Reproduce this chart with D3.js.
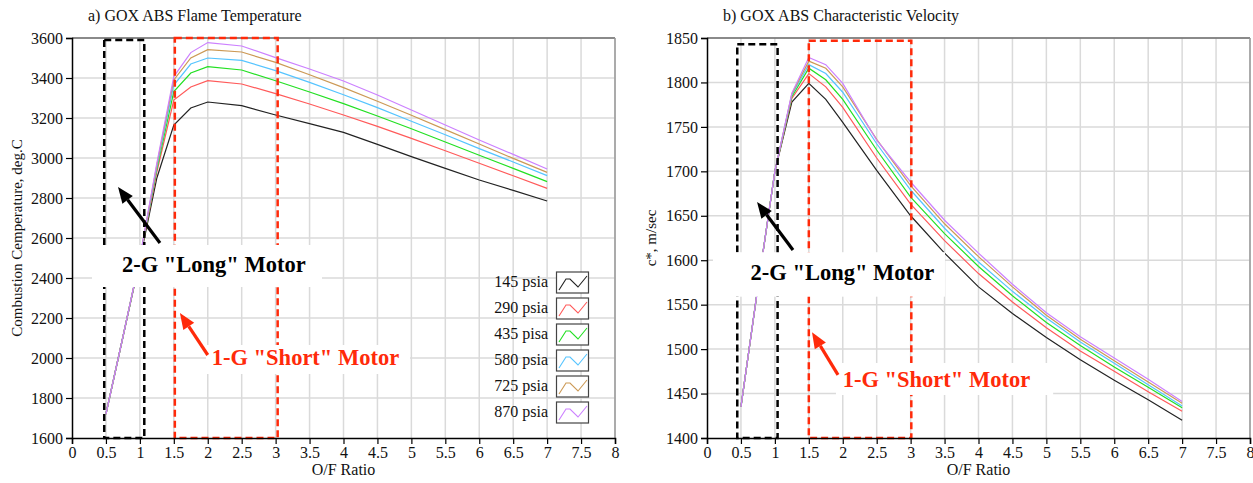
<!DOCTYPE html>
<html>
<head>
<meta charset="utf-8">
<script src="https://cdn.jsdelivr.net/npm/d3@7"></script>
<style>
  body { margin: 0; background: #fff; }
  svg, svg text { font-family: "Liberation Serif", "Times New Roman", serif !important; }
</style>
</head>
<body>
<div id="chart"></div>
<script>
// O/F ratio points
var ofRatio = [0.5, 0.75, 1, 1.25, 1.5, 1.75, 2, 2.5, 3, 3.5, 4, 4.5, 5, 5.5, 6, 6.5, 7];

var seriesNames = ["145 psia", "290 psia", "435 pisa", "580 psia", "725 psia", "870 psia"];
var seriesColors = ["#222222", "#ff5a5a", "#22e022", "#55c4ff", "#cc9955", "#cc80ff"];

// a) flame temperature, deg C
var tempP145 = [1720, 2105, 2490, 2900, 3165, 3250, 3280, 3262, 3215, 3172, 3128, 3068, 3007, 2948, 2890, 2838, 2785];
var tempP290 = [1720, 2105, 2495, 2930, 3290, 3355, 3387, 3370, 3322, 3270, 3215, 3158, 3098, 3036, 2974, 2911, 2848];
var tempP435 = [1720, 2105, 2497, 2945, 3332, 3425, 3457, 3440, 3386, 3330, 3272, 3210, 3146, 3080, 3014, 2948, 2882];
var tempP580 = [1720, 2105, 2498, 2955, 3365, 3470, 3500, 3488, 3437, 3378, 3316, 3252, 3184, 3116, 3047, 2980, 2912];
var tempP725 = [1720, 2105, 2499, 2965, 3390, 3500, 3542, 3530, 3478, 3416, 3352, 3284, 3214, 3142, 3070, 2998, 2928];
var tempP870 = [1720, 2105, 2500, 2975, 3407, 3527, 3577, 3560, 3502, 3445, 3385, 3315, 3240, 3165, 3090, 3018, 2945];

// b) characteristic velocity, m/sec
var cstarP145 = [1435, 1570, 1700, 1778, 1799, 1781, 1755, 1701, 1650, 1608, 1570, 1540, 1513, 1488, 1465, 1443, 1420];
var cstarP290 = [1435, 1570, 1700, 1782, 1810, 1795, 1772, 1715, 1663, 1622, 1585, 1553, 1524, 1498, 1475, 1452, 1430];
var cstarP435 = [1435, 1570, 1700, 1784, 1816, 1803, 1781, 1724, 1671, 1630, 1593, 1560, 1530, 1504, 1480, 1457, 1434];
var cstarP580 = [1435, 1570, 1700, 1786, 1820, 1810, 1789, 1731, 1679, 1636, 1598, 1565, 1535, 1508, 1484, 1460, 1436];
var cstarP725 = [1435, 1570, 1700, 1787, 1824, 1816, 1795, 1736, 1684, 1641, 1604, 1570, 1538, 1511, 1487, 1463, 1439];
var cstarP870 = [1435, 1570, 1700, 1788, 1828, 1820, 1799, 1735, 1688, 1645, 1608, 1573, 1541, 1514, 1490, 1466, 1441];

var xTicks = d3.range(0, 8.01, 0.5);
var tempTicks = d3.range(1600, 3601, 200);
var cstarTicks = d3.range(1400, 1851, 50);

var WIDTH = 1253, HEIGHT = 483;
var RED = "#ff2a0a";

const svg = d3.select("#chart").append("svg")
  .attr("width", WIDTH)
  .attr("height", HEIGHT);

function drawPanel(p) {
  const x = d3.scaleLinear().domain([0, 8]).range([p.left, p.right]);
  const y = d3.scaleLinear().domain(p.yDomain).range([p.bottom, p.top]);
  const g = svg.append("g");

  // grid
  g.append("g").selectAll("line").data(xTicks.slice(1)).join("line")
    .attr("x1", d => x(d)).attr("x2", d => x(d))
    .attr("y1", p.top).attr("y2", p.bottom)
    .attr("stroke", "#dadada").attr("stroke-width", 1.5);
  g.append("g").selectAll("line").data(p.yTicks.slice(1)).join("line")
    .attr("x1", p.left).attr("x2", p.right)
    .attr("y1", d => y(d)).attr("y2", d => y(d))
    .attr("stroke", "#dadada").attr("stroke-width", 1.5);

  // frame (top + right)
  g.append("line").attr("x1", p.left).attr("x2", p.right).attr("y1", p.top).attr("y2", p.top)
    .attr("stroke", "#333").attr("stroke-width", 1.2);
  g.append("line").attr("x1", p.right).attr("x2", p.right).attr("y1", p.top).attr("y2", p.bottom)
    .attr("stroke", "#999").attr("stroke-width", 1.5);

  // data
  const line = d3.line().x((d, i) => x(ofRatio[i])).y(d => y(d));
  g.append("g").selectAll("path").data(p.series).join("path")
    .attr("d", d => line(d))
    .attr("fill", "none")
    .attr("stroke", (d, i) => seriesColors[i])
    .attr("stroke-width", 1.2);

  // dashed boxes
  p.boxes.forEach(b => {
    g.append("rect")
      .attr("x", x(b.x0)).attr("y", y(b.y1))
      .attr("width", x(b.x1) - x(b.x0)).attr("height", y(b.y0) - y(b.y1))
      .attr("fill", "none")
      .attr("stroke", b.color).attr("stroke-width", 2.5)
      .attr("stroke-dasharray", "7,4");
  });

  // axes
  const xAxis = d3.axisBottom(x).tickValues(xTicks).tickSize(6).tickFormat(d3.format("~g"));
  const yAxis = d3.axisLeft(y).tickValues(p.yTicks).tickSize(6).tickFormat(d3.format("d"));
  const ax = g.append("g").attr("transform", `translate(0,${p.bottom})`).call(xAxis);
  const ay = g.append("g").attr("transform", `translate(${p.left},0)`).call(yAxis);
  [ax, ay].forEach(a => {
    a.attr("font-family", null).attr("font-size", null);
    a.select(".domain").attr("stroke", "#000").attr("stroke-width", 1.5);
    a.selectAll(".tick line").attr("stroke", "#000").attr("stroke-width", 1.2);
    a.selectAll(".tick text")
      .style("font-size", "16px").attr("fill", "#111");
  });

  // titles
  g.append("text").attr("x", p.left + 16).attr("y", 21)
    .style("font-size", "16px").attr("fill", "#111").text(p.title);
  g.append("text").attr("x", (p.left + p.right) / 2).attr("y", 475)
    .attr("text-anchor", "middle").style("font-size", "16px").attr("fill", "#111")
    .text("O/F Ratio");
  g.append("text")
    .attr("transform", `translate(${p.ylabelX},${(p.top + p.bottom) / 2}) rotate(-90)`)
    .attr("text-anchor", "middle").style("font-size", "15px").attr("fill", "#111")
    .text(p.ylabel);

  // labels with white backgrounds
  p.labels.forEach(l => {
    g.append("rect")
      .attr("x", x(l.bx0)).attr("y", y(l.by1))
      .attr("width", x(l.bx1) - x(l.bx0)).attr("height", y(l.by0) - y(l.by1))
      .attr("fill", "#fff");
    g.append("text")
      .attr("x", x(l.tx)).attr("y", y(l.ty))
      .attr("text-anchor", "middle")
      .style("font-size", "22.5px").attr("font-weight", "bold")
      .attr("fill", l.color).text(l.text);
  });

  // arrows
  p.arrows.forEach(a => {
    const x1 = x(a.x1), y1 = y(a.y1), x2 = x(a.x2), y2 = y(a.y2);
    const ang = Math.atan2(y2 - y1, x2 - x1);
    const len = 16, half = 6.5;
    const bx = x2 - len * Math.cos(ang), by = y2 - len * Math.sin(ang);
    g.append("line")
      .attr("x1", x1).attr("y1", y1).attr("x2", bx).attr("y2", by)
      .attr("stroke", a.color).attr("stroke-width", 3.2);
    g.append("polygon")
      .attr("points", [
        [x2, y2],
        [bx + half * Math.sin(ang), by - half * Math.cos(ang)],
        [bx - half * Math.sin(ang), by + half * Math.cos(ang)]
      ].map(q => q.join(",")).join(" "))
      .attr("fill", a.color);
  });

  return { x: x, y: y, g: g };
}

const left = drawPanel({
  left: 72, right: 615, top: 38, bottom: 438,
  yDomain: [1600, 3600], yTicks: tempTicks,
  series: [tempP145, tempP290, tempP435, tempP580, tempP725, tempP870],
  title: "a) GOX ABS Flame Temperature",
  ylabel: "Combustion Cemperature, deg.C", ylabelX: 22,
  boxes: [
    { x0: 0.475, x1: 1.065, y0: 1600, y1: 3590, color: "#000" },
    { x0: 1.515, x1: 3.03, y0: 1600, y1: 3600, color: RED }
  ],
  labels: [
    { bx0: 0.295, bx1: 3.683, by0: 2355, by1: 2565, tx: 2.09, ty: 2428, text: "2-G \"Long\" Motor", color: "#000" },
    { bx0: 1.974, bx1: 4.98, by0: 1920, by1: 2065, tx: 3.44, ty: 1963, text: "1-G \"Short\" Motor", color: RED }
  ],
  arrows: [
    { x1: 1.296, y1: 2575, x2: 0.678, y2: 2855, color: "#000" },
    { x1: 2.0, y1: 2015, x2: 1.59, y2: 2225, color: RED }
  ]
});

// legend (left panel only)
const legend = left.g.append("g").selectAll("g").data(seriesNames).join("g")
  .attr("transform", (d, i) => `translate(0,${272 + i * 26})`);
legend.append("text")
  .attr("x", 548).attr("y", 15)
  .attr("text-anchor", "end").style("font-size", "16px").attr("fill", "#111")
  .text(d => d);
legend.append("rect")
  .attr("x", 556.5).attr("y", 0).attr("width", 32).attr("height", 21)
  .attr("fill", "#fff").attr("stroke", "#444").attr("stroke-width", 1.2);
legend.append("polyline")
  .attr("points", "559,18 566,7 570,7 578,15 587,4")
  .attr("fill", "none")
  .attr("stroke", (d, i) => seriesColors[i]).attr("stroke-width", 1.1);

drawPanel({
  left: 707, right: 1250, top: 38, bottom: 438,
  yDomain: [1400, 1850], yTicks: cstarTicks,
  series: [cstarP145, cstarP290, cstarP435, cstarP580, cstarP725, cstarP870],
  title: "b) GOX ABS Characteristic Velocity",
  ylabel: "c*, m/sec", ylabelX: 656,
  boxes: [
    { x0: 0.446, x1: 1.04, y0: 1400, y1: 1843, color: "#000" },
    { x0: 1.5, x1: 3.01, y0: 1400, y1: 1847, color: RED }
  ],
  labels: [
    { bx0: 0.088, bx1: 3.506, by0: 1559, by1: 1609, tx: 1.996, ty: 1578, text: "2-G \"Long\" Motor", color: "#000" },
    { bx0: 1.9, bx1: 5.1, by0: 1448.4, by1: 1484.4, tx: 3.38, ty: 1457.6, text: "1-G \"Short\" Motor", color: RED }
  ],
  arrows: [
    { x1: 1.267, y1: 1611.5, x2: 0.737, y2: 1665.5, color: "#000" },
    { x1: 1.93, y1: 1471, x2: 1.547, y2: 1519, color: RED }
  ]
});
</script>
</body>
</html>
